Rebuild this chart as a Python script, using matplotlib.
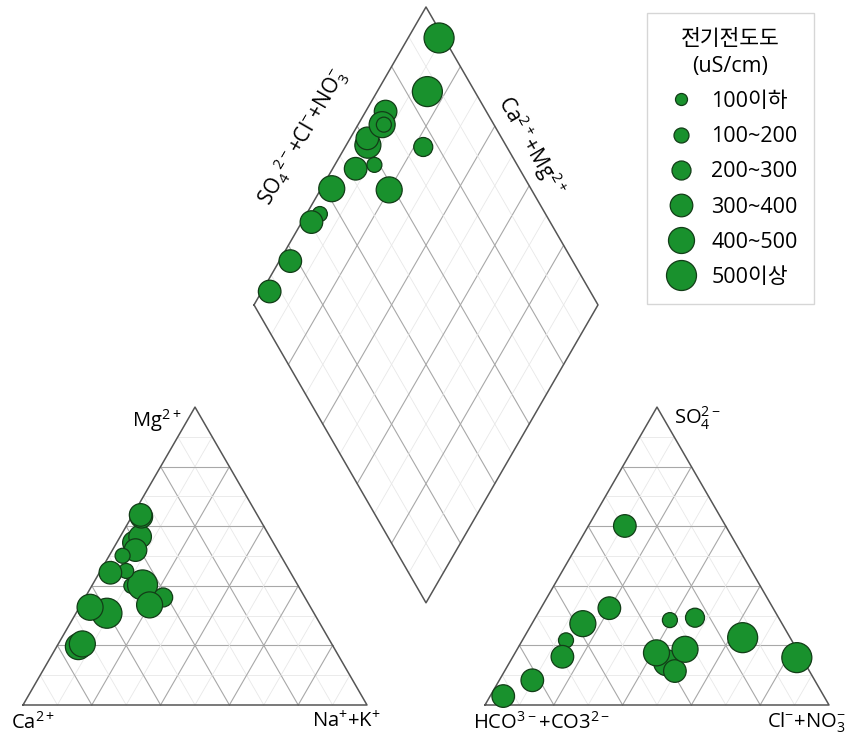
import numpy as np
import matplotlib
matplotlib.use('Agg')
import matplotlib.pyplot as plt
from matplotlib.lines import Line2D

plt.rcParams['font.family'] = ['Open Sans', 'Noto Sans CJK KR', 'DejaVu Sans']
plt.rcParams['mathtext.default'] = 'regular'

# sample composition (meq %)
mg = [40.0, 19.6, 54.5, 30.8, 40.3, 56.5, 20.5, 45.0, 36.1, 52.0, 32.8, 33.6, 50.1, 63.2, 63.8, 44.4]
nak = [11.5, 6.3, 5.0, 9.0, 14.6, 5.8, 7.0, 7.5, 22.7, 6.7, 3.1, 20.0, 3.9, 2.8, 2.3, 3.2]
so4 = [17.0, 14.2, 11.4, 15.9, 22.6, 60.1, 18.7, 28.5, 29.3, 32.5, 27.3, 17.5, 21.7, 16.2, 3.0, 8.3]
cl = [41.5, 45.7, 49.5, 82.7, 63.6, 10.6, 48.8, 39.5, 46.4, 19.9, 14.8, 41.1, 12.7, 14.4, 3.8, 9.6]
ec_class = [1, 4, 3, 5, 5, 3, 4, 1, 2, 3, 4, 4, 1, 3, 3, 3]

ec_labels = ['100이하', '100~200', '200~300', '300~400', '400~500', '500이상']

# layout (pixels of the 851x741 figure)
W, H = 851, 741
SIDE = 344.0
X0, Y0 = 23.0, 705.0
GAP = 118.0 / SIDE
h = np.sqrt(3) / 2
radius_px = [6.0, 7.5, 9.5, 11.3, 13.0, 15.0]
FILL = '#19912d'
EDGE = '#123d17'
OUTLINE = '#555555'
MAJOR = '#a8a8a8'
MINOR = '#e8e8e8'


def px(xp, yp):
    return (xp - X0) / SIDE, (Y0 - yp) / SIDE


def cation_xy(m, n):
    m, n = np.asarray(m) / 100, np.asarray(n) / 100
    return n + m / 2, m * h


def anion_xy(s, c):
    s, c = np.asarray(s) / 100, np.asarray(c) / 100
    return 1 + GAP + c + s / 2, s * h


def diamond_xy(n, cs):
    n, cs = np.asarray(n) / 100, np.asarray(cs) / 100
    t = 1 + GAP + cs - n
    return n + t / 2, t * h


def draw_triangle(ax, xoff):
    for i in range(1, 10):
        f = i / 10
        col, lw = (MAJOR, 0.8) if i % 2 == 0 else (MINOR, 0.6)
        segs = [((f / 2, f * h), (1 - f / 2, f * h)),
                ((f, 0), (f + (1 - f) / 2, (1 - f) * h)),
                ((1 - f, 0), ((1 - f) / 2, (1 - f) * h))]
        for (xa, ya), (xb, yb) in segs:
            ax.plot([xa + xoff, xb + xoff], [ya, yb], color=col, lw=lw, zorder=1)
    ax.plot(np.array([0, 1, 0.5, 0]) + xoff, [0, 0, h, 0], color=OUTLINE, lw=1.1, zorder=2)


def draw_diamond(ax):
    for i in range(1, 10):
        f = i * 10
        col, lw = (MAJOR, 0.8) if i % 2 == 0 else (MINOR, 0.6)
        xa, ya = diamond_xy([f, f], [0, 100])
        ax.plot(xa, ya, color=col, lw=lw, zorder=1)
        xb, yb = diamond_xy([0, 100], [f, f])
        ax.plot(xb, yb, color=col, lw=lw, zorder=1)
    xo, yo = diamond_xy([0, 100, 100, 0, 0], [0, 0, 100, 100, 0])
    ax.plot(xo, yo, color=OUTLINE, lw=1.1, zorder=2)


fig = plt.figure(figsize=(W / 100, H / 100), dpi=100)
ax = fig.add_axes([0, 0, 1, 1])
ax.set_xlim(-X0 / SIDE, (W - X0) / SIDE)
ax.set_ylim((Y0 - H) / SIDE, Y0 / SIDE)
ax.set_aspect('equal')
ax.axis('off')

draw_triangle(ax, 0)
draw_triangle(ax, 1 + GAP)
draw_diamond(ax)

pt_per_px = 72 / 100
sizes = [(2 * radius_px[c] * pt_per_px) ** 2 for c in ec_class]
clso4 = np.array(so4) + np.array(cl)

for xy in (cation_xy(mg, nak), anion_xy(so4, cl), diamond_xy(nak, clso4)):
    ax.scatter(xy[0], xy[1], s=sizes, c=FILL, edgecolors=EDGE, linewidths=0.9, zorder=3)

fs = 14.5
ax.text(*px(181, 421), r'Mg$^{2+}$', ha='right', va='center', fontsize=fs)
ax.text(*px(33, 723), r'Ca$^{2+}$', ha='center', va='center', fontsize=fs)
ax.text(*px(346, 722), r'Na$^{+}$+K$^{+}$', ha='center', va='center', fontsize=fs)
ax.text(*px(674, 418), r'SO$_4^{2-}$', ha='left', va='center', fontsize=fs)
ax.text(*px(542, 723), r'HCO$^{3-}$+CO3$^{2-}$', ha='center', va='center', fontsize=fs)
ax.text(*px(806, 723), r'Cl$^{-}$+NO$_3^{-}$', ha='center', va='center', fontsize=fs)
ax.text(*px(303, 137), r'SO$_4$$^{2-}$+Cl$^{-}$+NO$_3^{-}$', ha='center', va='center',
        fontsize=fs + 0.5, rotation=60, rotation_mode='anchor')
ax.text(*px(531, 146), r'Ca$^{2+}$+Mg$^{2+}$', ha='center', va='center',
        fontsize=fs + 0.5, rotation=-60, rotation_mode='anchor')

lfs = 15.5
handles = [Line2D([], [], ls='', marker='o', ms=2 * r * pt_per_px, mfc=FILL, mec=EDGE, mew=0.9)
           for r in radius_px]
leg = ax.legend(handles, ec_labels, title='전기전도도\n(uS/cm)', loc='upper right',
                bbox_to_anchor=(814 / W, 1 - 13 / H), bbox_transform=fig.transFigure,
                borderaxespad=0, fontsize=lfs, title_fontsize=lfs, frameon=True, fancybox=False,
                labelspacing=0.66, handletextpad=0.55, borderpad=0.75, handlelength=1.7)
leg.get_frame().set_edgecolor('#cccccc')
leg.get_frame().set_linewidth(1.0)
leg.get_title().set_multialignment('center')
leg.get_title().set_linespacing(1.35)

fig.savefig('out.png', dpi=100)
